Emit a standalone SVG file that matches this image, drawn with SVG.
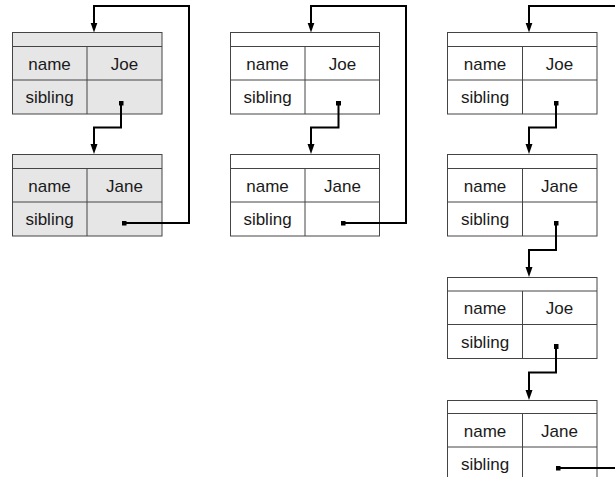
<svg xmlns="http://www.w3.org/2000/svg" width="615" height="477" viewBox="0 0 615 477">
<style>
.box{stroke:#444444;stroke-width:1}
.g{fill:#e6e6e6}
.w{fill:#ffffff}
.t{font-family:"Liberation Sans",Arial,sans-serif;font-size:17px;fill:#1a1a1a;text-anchor:middle}
.c{fill:none;stroke:#000;stroke-width:2;marker-end:url(#arr)}
.s{marker-start:url(#dot)}
</style>
<defs>
<marker id="arr" markerUnits="userSpaceOnUse" markerWidth="10" markerHeight="8" viewBox="0 0 10 8" refX="6" refY="4" orient="auto">
<path d="M0,0.5 L10,4 L0,7.5 z" fill="#000"/>
</marker>
<marker id="dot" markerUnits="userSpaceOnUse" markerWidth="5" markerHeight="5" viewBox="0 0 5 5" refX="2.5" refY="2.5" orient="auto">
<rect x="0" y="0" width="5" height="5" fill="#000"/>
</marker>
</defs>
<rect width="615" height="477" fill="#fff"/>

<!-- column 1 (gray) -->
<g id="c1-joe" transform="translate(12.5,32.5)">
<rect class="box g" x="0" y="0" width="149.5" height="81.5"/>
<line class="box" x1="0" y1="14" x2="149.5" y2="14"/>
<line class="box" x1="0" y1="47.5" x2="149.5" y2="47.5"/>
<line class="box" x1="74.5" y1="14" x2="74.5" y2="81.5"/>
<text class="t" x="37" y="37">name</text>
<text class="t" x="112" y="37">Joe</text>
<text class="t" x="37" y="70.5">sibling</text>
</g>
<g id="c1-jane" transform="translate(12.5,154.5)">
<rect class="box g" x="0" y="0" width="149.5" height="81.5"/>
<line class="box" x1="0" y1="14" x2="149.5" y2="14"/>
<line class="box" x1="0" y1="47.5" x2="149.5" y2="47.5"/>
<line class="box" x1="74.5" y1="14" x2="74.5" y2="81.5"/>
<text class="t" x="37" y="37">name</text>
<text class="t" x="112" y="37">Jane</text>
<text class="t" x="37" y="70.5">sibling</text>
</g>

<!-- column 2 -->
<g id="c2-joe" transform="translate(230.5,32.5)">
<rect class="box w" x="0" y="0" width="149" height="81.5"/>
<line class="box" x1="0" y1="14" x2="149" y2="14"/>
<line class="box" x1="0" y1="47.5" x2="149" y2="47.5"/>
<line class="box" x1="74.5" y1="14" x2="74.5" y2="81.5"/>
<text class="t" x="37" y="37">name</text>
<text class="t" x="112" y="37">Joe</text>
<text class="t" x="37" y="70.5">sibling</text>
</g>
<g id="c2-jane" transform="translate(230.5,154.5)">
<rect class="box w" x="0" y="0" width="149" height="81.5"/>
<line class="box" x1="0" y1="14" x2="149" y2="14"/>
<line class="box" x1="0" y1="47.5" x2="149" y2="47.5"/>
<line class="box" x1="74.5" y1="14" x2="74.5" y2="81.5"/>
<text class="t" x="37" y="37">name</text>
<text class="t" x="112" y="37">Jane</text>
<text class="t" x="37" y="70.5">sibling</text>
</g>

<!-- column 3 -->
<g id="c3-joe1" transform="translate(447.5,32.5)">
<rect class="box w" x="0" y="0" width="149.5" height="81.5"/>
<line class="box" x1="0" y1="14" x2="149.5" y2="14"/>
<line class="box" x1="0" y1="47.5" x2="149.5" y2="47.5"/>
<line class="box" x1="75" y1="14" x2="75" y2="81.5"/>
<text class="t" x="37.5" y="37">name</text>
<text class="t" x="112" y="37">Joe</text>
<text class="t" x="37.5" y="70.5">sibling</text>
</g>
<g id="c3-jane1" transform="translate(447.5,154.5)">
<rect class="box w" x="0" y="0" width="149.5" height="81.5"/>
<line class="box" x1="0" y1="14" x2="149.5" y2="14"/>
<line class="box" x1="0" y1="47.5" x2="149.5" y2="47.5"/>
<line class="box" x1="75" y1="14" x2="75" y2="81.5"/>
<text class="t" x="37.5" y="37">name</text>
<text class="t" x="112" y="37">Jane</text>
<text class="t" x="37.5" y="70.5">sibling</text>
</g>
<g id="c3-joe2" transform="translate(447.5,277.5)">
<rect class="box w" x="0" y="0" width="149.5" height="81"/>
<line class="box" x1="0" y1="13.5" x2="149.5" y2="13.5"/>
<line class="box" x1="0" y1="47" x2="149.5" y2="47"/>
<line class="box" x1="75" y1="13.5" x2="75" y2="81"/>
<text class="t" x="37.5" y="36.5">name</text>
<text class="t" x="112" y="36.5">Joe</text>
<text class="t" x="37.5" y="70">sibling</text>
</g>
<g id="c3-jane2" transform="translate(447.5,400.5)">
<rect class="box w" x="0" y="0" width="149.5" height="81"/>
<line class="box" x1="0" y1="13" x2="149.5" y2="13"/>
<line class="box" x1="0" y1="46.5" x2="149.5" y2="46.5"/>
<line class="box" x1="75" y1="13" x2="75" y2="81"/>
<text class="t" x="37.5" y="36">name</text>
<text class="t" x="112" y="36">Jane</text>
<text class="t" x="37.5" y="69.5">sibling</text>
</g>

<!-- connectors -->
<g id="connectors">
<path class="c s" d="M121,103 V127.5 H94 V150"/>
<path class="c s" d="M124,223 H189 V6 H94 V28.5"/>
<path class="c s" d="M338.5,103 V127.5 H311 V150"/>
<path class="c s" d="M343,223 H406 V6 H311 V28.5"/>
<path class="c" d="M615,6 H529 V28.5"/>
<path class="c s" d="M556,103 V127.5 H529 V150"/>
<path class="c s" d="M556,223 V250 H529 V273"/>
<path class="c s" d="M556,346.5 V372.5 H529 V396"/>
<path class="s" fill="none" stroke="#000" stroke-width="2" d="M558,468 H615"/>
</g>
</svg>
